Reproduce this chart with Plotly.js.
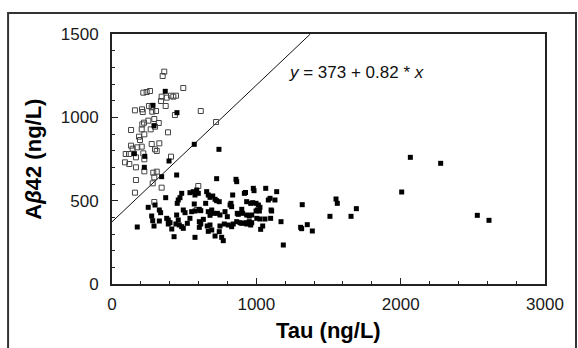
<!DOCTYPE html>
<html>
<head>
<meta charset="utf-8">
<script src="https://cdn.plot.ly/plotly-3.0.1.min.js"></script>
<style>
  html, body { margin: 0; padding: 0; background: #ffffff; }
  #chart { width: 578px; height: 348px; }
</style>
</head>
<body>
<div id="chart"></div>
<script>
// Open squares (Tau, Aβ42)
const openTau = [362,351,217,240,263,494,344,379,409,425,443,340,256,275,372,159,208,213,279,305,615,436,293,252,222,210,324,721,132,206,268,298,187,224,194,388,275,328,206,175,132,143,298,310,95,118,409,217,166,224,90,120,166,224,286,310,293,166,282,344,159,293,598,587];
const openAb  = [1274,1248,1148,1152,1158,1176,1124,1118,1130,1124,1130,1098,1068,1060,1068,1042,1048,1032,1034,1038,1038,1014,990,980,968,958,966,972,924,928,928,944,884,898,864,910,840,844,824,820,830,812,808,798,780,780,764,784,760,748,730,720,700,676,668,674,640,624,604,578,548,492,588,444];

// Filled squares (Tau, Aβ42)
const filledTau = [369,284,450,291,570,741,155,227,224,395,344,448,725,859,864,
  175,251,298,328,337,372,275,282,291,328,379,390,402,390,414,430,452,459,471,483,448,459,466,483,494,443,522,540,494,506,540,563,575,587,598,552,575,570,605,615,605,615,605,633,575,649,656,667,679,698,714,725,743,667,691,702,679,660,679,691,667,714,730,748,748,743,760,771,783,799,778,806,824,836,868,864,887,905,899,917,933,928,951,829,840,
  925,979,984,1065,1141,961,975,998,1014,1025,1007,998,1021,818,829,875,933,951,968,1095,1083,1129,1102,1106,1003,1025,1060,1099,899,933,961,968,1044,1030,1171,1187,1318,1307,1314,1353,1388,1552,1561,1510,1656,1693,
  2067,2277,2007,2531,2612];
const filledAb  = [1156,1072,1028,950,838,808,782,766,700,738,644,654,632,628,614,
  342,460,474,444,428,518,408,380,348,378,394,384,368,360,330,284,484,504,518,544,414,384,354,344,334,360,364,394,444,428,548,554,534,564,544,434,438,480,448,440,374,360,340,388,280,484,554,534,520,528,508,500,494,434,444,424,412,348,354,324,316,288,424,414,348,314,280,260,434,404,360,354,484,534,424,374,368,424,448,544,494,368,374,344,360,
  549,574,560,574,554,484,488,484,474,460,444,438,438,474,464,418,414,408,414,514,504,504,444,438,394,390,390,394,364,360,354,368,348,328,374,234,476,340,332,356,318,510,484,406,406,452,
  760,724,552,412,382];

// Regression line y = a + b*x
const intercept = 373;
const slope = 0.82;
const yMax = 1500;
const lineX = [0, (yMax - intercept) / slope];
const lineY = lineX.map(x => intercept + slope * x);

const xTicks = [0, 1000, 2000, 3000];
const yTicks = [0, 500, 1000, 1500];

const FONT = 'Arial, "Liberation Sans", sans-serif';
const tickFont = {family: FONT, size: 17, color: '#1a1a1a'};

const traces = [
  {x: lineX, y: lineY, mode: 'lines', line: {color: '#111', width: 1}, hoverinfo: 'skip', showlegend: false},
  {x: openTau, y: openAb, mode: 'markers', type: 'scatter',
   marker: {symbol: 'square-open', size: 5, color: '#444', line: {width: 1, color: '#444'}}, showlegend: false},
  {x: filledTau, y: filledAb, mode: 'markers', type: 'scatter',
   marker: {symbol: 'square', size: 5, color: '#000'}, showlegend: false}
];

const layout = {
  width: 578, height: 348,
  margin: {l: 112, r: 33, t: 34, b: 64},
  paper_bgcolor: '#fff', plot_bgcolor: '#fff',
  showlegend: false,
  xaxis: {
    range: [0, 3000], tickvals: xTicks, ticktext: xTicks.map(String),
    ticks: 'inside', ticklen: 6, tickwidth: 1, tickcolor: '#222',
    minor: {dtick: 200, ticks: 'inside', ticklen: 3, tickcolor: '#222', showgrid: false},
    showline: true, linecolor: '#222', linewidth: 2, mirror: true,
    showgrid: false, zeroline: false, tickfont: tickFont, ticklabelstandoff: 4
  },
  yaxis: {
    range: [0, 1500], tickvals: yTicks, ticktext: yTicks.map(String),
    ticks: 'inside', ticklen: 6, tickwidth: 1, tickcolor: '#222',
    minor: {dtick: 100, ticks: 'inside', ticklen: 3, tickcolor: '#222', showgrid: false},
    showline: true, linecolor: '#222', linewidth: 2, mirror: true,
    showgrid: false, zeroline: false, tickfont: tickFont, ticklabelstandoff: 8
  },
  annotations: [
    {xref: 'x', yref: 'y', x: 1212, y: 1272, xanchor: 'left', yanchor: 'middle', showarrow: false,
     text: '<i>y</i> = 373 + 0.82 * <i>x</i>', font: {family: FONT, size: 17, color: '#111'}},
    {xref: 'paper', yref: 'paper', x: 0.5, y: -0.184, xanchor: 'center', yanchor: 'middle', showarrow: false,
     text: '<b>Tau (ng/L)</b>', font: {family: FONT, size: 22, color: '#000'}},
    {xref: 'paper', yref: 'paper', x: -0.183, y: 0.5, xanchor: 'center', yanchor: 'middle', showarrow: false, textangle: -90,
     text: '<b>A<i>β</i>42 (ng/L)</b>', font: {family: FONT, size: 22, color: '#000'}}
  ],
  shapes: [
    {type: 'rect', xref: 'paper', yref: 'paper', x0: -0.240, x1: 1.0716, y0: -0.35, y1: 1.084,
     line: {color: '#333', width: 2}, fillcolor: 'rgba(0,0,0,0)', layer: 'below'}
  ]
};

Plotly.newPlot('chart', traces, layout, {displayModeBar: false, staticPlot: true});
</script>
</body>
</html>
